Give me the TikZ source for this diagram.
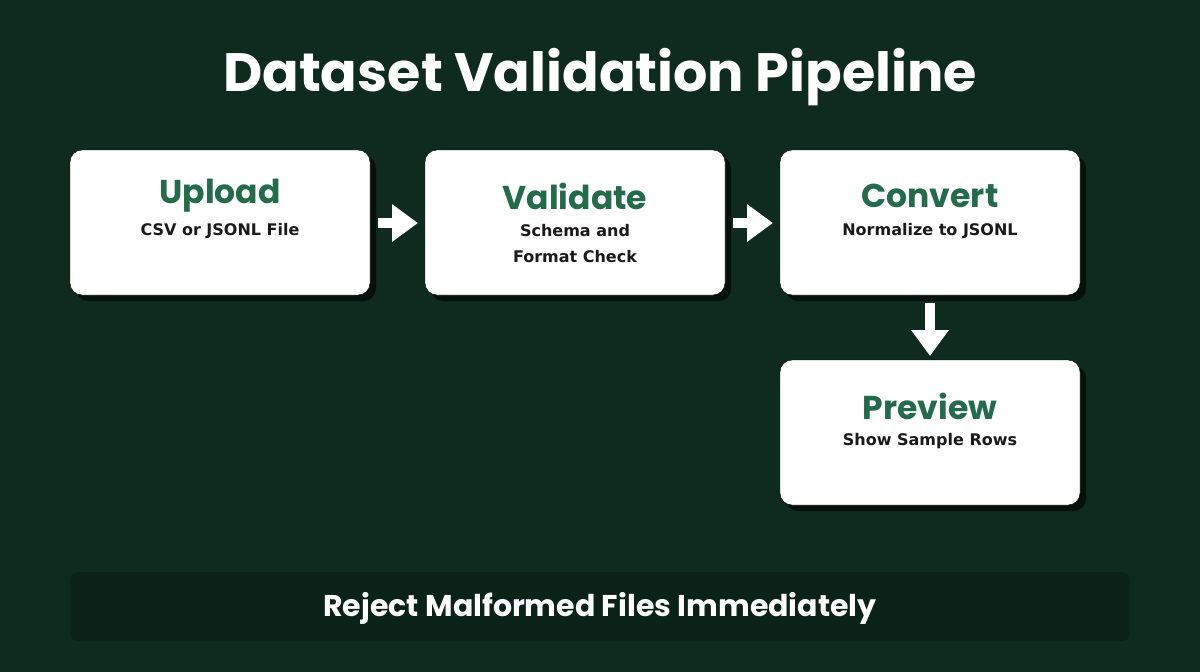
\documentclass[tikz,border=0pt]{standalone}
\usepackage{fontspec}
\usetikzlibrary{arrows.meta}
\setmainfont{Poppins}
\newfontfamily\djsans{DejaVu Sans}
\definecolor{bgc}{HTML}{0F2B1F}
\definecolor{tgreen}{HTML}{236B4B}
\definecolor{subc}{HTML}{1A1A1A}
\definecolor{barc}{HTML}{0B2218}
\begin{document}
\begin{tikzpicture}[x=1pt,y=-1pt,
  box/.style={fill=white,rounded corners=12pt},
  shadow/.style={fill=black!60!bgc,rounded corners=12pt},
  ttl/.style={text=tgreen,font=\fontsize{33}{36}\selectfont\bfseries},
  sub/.style={text=subc,font=\djsans\fontsize{16}{26}\selectfont\bfseries,align=center},
  arr/.style={white,line width=10pt,-{Triangle[length=26pt,width=36pt]}}]
\useasboundingbox (0,0) rectangle (1200,672);
\fill[bgc] (0,0) rectangle (1200,672);
\node[text=white,font=\fontsize{54}{60}\selectfont\bfseries] (title) at (600,77) {Dataset Validation Pipeline};
\foreach \x/\y in {70/150,425/150,780/150,780/360}{
  \fill[shadow] (\x+6,\y+6) rectangle (\x+306,\y+151);
}
\draw[box] (70,150) rectangle (370,295);
\draw[box] (425,150) rectangle (725,295);
\draw[box] (780,150) rectangle (1080,295);
\draw[box] (780,360) rectangle (1080,505);
\node[ttl] (t1) at (220,196) {Upload};
\node[sub] (s1) at (220,231) {CSV or JSONL File};
\node[ttl] (t2) at (575,196) {Validate};
\node[sub] (s2) at (575,244) {Schema and\\Format Check};
\node[ttl] (t3) at (930,196) {Convert};
\node[sub] (s3) at (930,231) {Normalize to JSONL};
\node[ttl] (t4) at (930,406) {Preview};
\node[sub] (s4) at (930,441) {Show Sample Rows};
\coordinate (a1s) at (378,223); \coordinate (a1e) at (418,223);
\coordinate (a2s) at (733,223); \coordinate (a2e) at (773,223);
\coordinate (a3s) at (930,303); \coordinate (a3e) at (930,356);
\draw[arr] (a1s) -- (a1e);
\draw[arr] (a2s) -- (a2e);
\draw[arr] (a3s) -- (a3e);
\fill[barc,rounded corners=8pt] (70,572) rectangle (1130,641);
\node[text=white,font=\fontsize{30}{34}\selectfont\bfseries] (bar) at (600,608) {Reject Malformed Files Immediately};
\end{tikzpicture}
\end{document}
